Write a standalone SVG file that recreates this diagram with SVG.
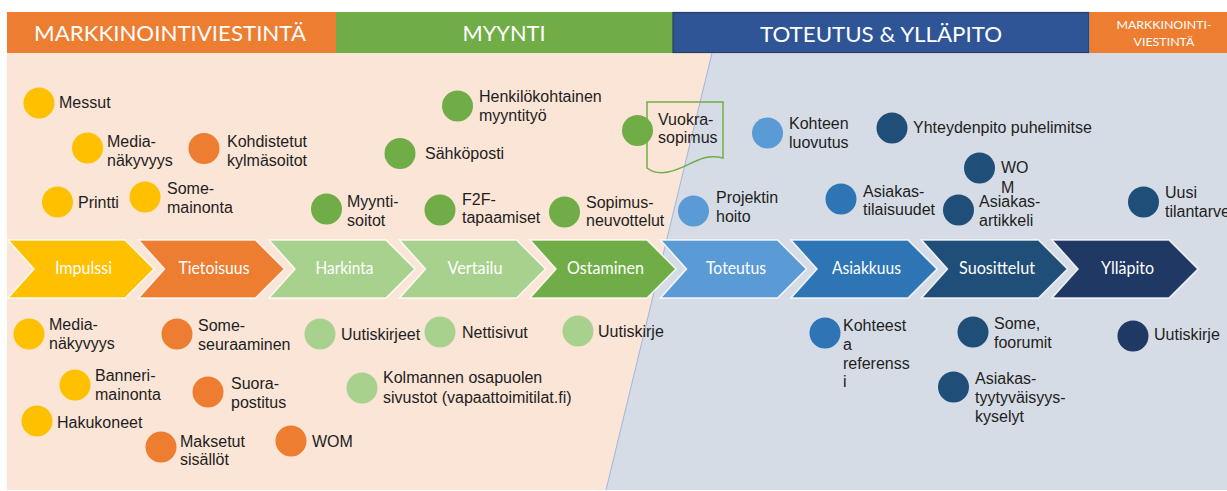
<svg xmlns="http://www.w3.org/2000/svg" width="1227" height="491" viewBox="0 0 1227 491">
<style>
.lbl{font-family:"Liberation Sans",Arial,sans-serif;font-size:16px;fill:#1e1e1e}
.hdr{font-family:Lato,"Open Sans",sans-serif;fill:#fff}
.ct{font-family:Lato,"Open Sans",sans-serif;font-size:17px;fill:#fff;text-anchor:middle}
.chev{stroke:#fff;stroke-width:1.5;stroke-opacity:0.85}
.yel{fill:#FFC000}.ora{fill:#ED7D31}.grn{fill:#70AD47}.lgr{fill:#A9D18E}
.lbl1{fill:#5B9BD5}.mbl{fill:#2E75B6}.dbl{fill:#1F4E79}.nav{fill:#203864}
</style>
<defs>
<path id="chv" d="M0,240 L117,240 L146,269 L117,298 L0,298 L26,269 Z"/>
</defs>
<rect x="0" y="0" width="1227" height="491" fill="#fff"/>
<g id="background">
<rect x="7" y="53" width="1220" height="437" fill="#FBE5D6"/>
<polygon points="712,53 1227,53 1227,490 606,490" fill="#D6DCE5"/>
<line x1="712" y1="53" x2="606" y2="490" stroke="#9DB7E0" stroke-width="1"/>
</g>
<g id="header">
<rect x="7" y="12" width="329" height="41" fill="#ED7D31"/>
<rect x="336" y="12" width="337" height="41" fill="#70AD47"/>
<rect x="673" y="12.5" width="416" height="40" fill="#2F5597" stroke="#2A3F62" stroke-width="1.2"/>
<rect x="1089.6" y="12" width="137.4" height="41" fill="#ED7D31"/>
<text class="hdr" x="170" y="41" font-size="22" text-anchor="middle" textLength="272" lengthAdjust="spacingAndGlyphs">MARKKINOINTIVIESTINTÄ</text>
<text class="hdr" x="504" y="41" font-size="22" text-anchor="middle" textLength="83" lengthAdjust="spacingAndGlyphs">MYYNTI</text>
<text class="hdr" x="881" y="42" font-size="22" text-anchor="middle" textLength="242" lengthAdjust="spacingAndGlyphs">TOTEUTUS &amp; YLLÄPITO</text>
<text class="hdr" x="1164" y="29" font-size="12" text-anchor="middle" textLength="95" lengthAdjust="spacingAndGlyphs">MARKKINOINTI-</text>
<text class="hdr" x="1164" y="46" font-size="12" text-anchor="middle" textLength="61" lengthAdjust="spacingAndGlyphs">VIESTINTÄ</text>
</g>
<g id="stages">
<g id="s-impulssi"><use href="#chv" x="8" class="chev yel"/><text class="ct" x="83.5" y="274" textLength="57" lengthAdjust="spacingAndGlyphs">Impulssi</text></g>
<g id="s-tietoisuus"><use href="#chv" x="138.5" class="chev ora"/><text class="ct" x="214" y="274" textLength="71" lengthAdjust="spacingAndGlyphs">Tietoisuus</text></g>
<g id="s-harkinta"><use href="#chv" x="269" class="chev lgr"/><text class="ct" x="344.5" y="274" textLength="58" lengthAdjust="spacingAndGlyphs">Harkinta</text></g>
<g id="s-vertailu"><use href="#chv" x="399.5" class="chev lgr"/><text class="ct" x="475" y="274" textLength="55" lengthAdjust="spacingAndGlyphs">Vertailu</text></g>
<g id="s-ostaminen"><use href="#chv" x="530" class="chev grn"/><text class="ct" x="605.5" y="274" textLength="77" lengthAdjust="spacingAndGlyphs">Ostaminen</text></g>
<g id="s-toteutus"><use href="#chv" x="660.5" class="chev lbl1"/><text class="ct" x="736" y="274" textLength="60" lengthAdjust="spacingAndGlyphs">Toteutus</text></g>
<g id="s-asiakkuus"><use href="#chv" x="791" class="chev mbl"/><text class="ct" x="866.5" y="274" textLength="69" lengthAdjust="spacingAndGlyphs">Asiakkuus</text></g>
<g id="s-suosittelut"><use href="#chv" x="921.5" class="chev dbl"/><text class="ct" x="997" y="274" textLength="76" lengthAdjust="spacingAndGlyphs">Suosittelut</text></g>
<g id="s-yllapito"><use href="#chv" x="1052" class="chev nav"/><text class="ct" x="1127.5" y="274" textLength="53" lengthAdjust="spacingAndGlyphs">Ylläpito</text></g>
</g>
<g id="connectors"/>
<g id="nodes">
<g id="n-messut"><circle cx="39" cy="103" r="15.5" class="yel"/><text class="lbl" x="59" y="108">Messut</text></g>
<g id="n-medianakyvyys1"><circle cx="87.5" cy="148" r="15.5" class="yel"/><text class="lbl" x="107" y="147">Media-</text><text class="lbl" x="107" y="166">näkyvyys</text></g>
<g id="n-kohdistetut"><circle cx="204" cy="148.5" r="15.5" class="ora"/><text class="lbl" x="227" y="147">Kohdistetut</text><text class="lbl" x="227" y="166">kylmäsoitot</text></g>
<g id="n-printti"><circle cx="57.5" cy="202" r="15.5" class="yel"/><text class="lbl" x="78" y="208">Printti</text></g>
<g id="n-somemainonta"><circle cx="145" cy="197" r="15.5" class="yel"/><text class="lbl" x="167" y="194">Some-</text><text class="lbl" x="167" y="213">mainonta</text></g>
<g id="n-myyntisoitot"><circle cx="326.5" cy="209" r="15.5" class="grn"/><text class="lbl" x="347" y="207">Myynti-</text><text class="lbl" x="347" y="226">soitot</text></g>
<g id="n-henkilokohtainen"><circle cx="457.5" cy="106" r="15.5" class="grn"/><text class="lbl" x="479" y="102">Henkilökohtainen</text><text class="lbl" x="479" y="121">myyntityö</text></g>
<g id="n-sahkoposti"><circle cx="400" cy="153.5" r="15.5" class="grn"/><text class="lbl" x="425" y="159">Sähköposti</text></g>
<g id="n-f2f"><circle cx="440" cy="210" r="15.5" class="grn"/><text class="lbl" x="462" y="205">F2F-</text><text class="lbl" x="462" y="223">tapaamiset</text></g>
<g id="n-sopimus"><circle cx="564.5" cy="212" r="15.5" class="grn"/><text class="lbl" x="586" y="208">Sopimus-</text><text class="lbl" x="586" y="226">neuvottelut</text></g>
<g id="n-vuokrasopimus"><path d="M647,102 H723 V158 C700,152 690,168 668,172 C658,174 651,171 647,168 Z" fill="none" stroke="#70AD47" stroke-width="1.5"/><circle cx="637.5" cy="130.5" r="15.5" class="grn"/><text class="lbl" x="658" y="125">Vuokra-</text><text class="lbl" x="658" y="143">sopimus</text></g>
<g id="n-kohteenluovutus"><circle cx="767.5" cy="133" r="15.5" class="lbl1"/><text class="lbl" x="789" y="129">Kohteen</text><text class="lbl" x="789" y="148">luovutus</text></g>
<g id="n-yhteydenpito"><circle cx="892" cy="128" r="15.5" class="dbl"/><text class="lbl" x="913" y="133">Yhteydenpito puhelimitse</text></g>
<g id="n-wom2"><circle cx="979.5" cy="168" r="15.5" class="dbl"/><text class="lbl" x="1001" y="173">WO</text><text class="lbl" x="1001" y="193">M</text></g>
<g id="n-projektinhoito"><circle cx="693.5" cy="211" r="15.5" class="lbl1"/><text class="lbl" x="716" y="203">Projektin</text><text class="lbl" x="716" y="222">hoito</text></g>
<g id="n-asiakastilaisuudet"><circle cx="841" cy="199" r="15.5" class="mbl"/><text class="lbl" x="863" y="197">Asiakas-</text><text class="lbl" x="863" y="215">tilaisuudet</text></g>
<g id="n-asiakasartikkeli"><circle cx="958.5" cy="210" r="15.5" class="dbl"/><text class="lbl" x="979" y="207">Asiakas-</text><text class="lbl" x="979" y="226">artikkeli</text></g>
<g id="n-uusitilantarve"><circle cx="1143.5" cy="202" r="15.5" class="dbl"/><text class="lbl" x="1165" y="198">Uusi</text><text class="lbl" x="1165" y="217">tilantarve</text></g>
<g id="n-medianakyvyys2"><circle cx="29" cy="334" r="15.5" class="yel"/><text class="lbl" x="49" y="330">Media-</text><text class="lbl" x="49" y="349">näkyvyys</text></g>
<g id="n-someseuraaminen"><circle cx="177" cy="334" r="15.5" class="ora"/><text class="lbl" x="198" y="331">Some-</text><text class="lbl" x="198" y="350">seuraaminen</text></g>
<g id="n-uutiskirjeet"><circle cx="320" cy="334" r="15.5" class="lgr"/><text class="lbl" x="341" y="340">Uutiskirjeet</text></g>
<g id="n-nettisivut"><circle cx="440" cy="332" r="15.5" class="lgr"/><text class="lbl" x="462" y="338">Nettisivut</text></g>
<g id="n-uutiskirje1"><circle cx="578" cy="331" r="15.5" class="lgr"/><text class="lbl" x="598" y="337">Uutiskirje</text></g>
<g id="n-banneri"><circle cx="75" cy="385" r="15.5" class="yel"/><text class="lbl" x="95" y="381">Banneri-</text><text class="lbl" x="95" y="400">mainonta</text></g>
<g id="n-suorapostitus"><circle cx="208" cy="392" r="15.5" class="ora"/><text class="lbl" x="231" y="389">Suora-</text><text class="lbl" x="231" y="408">postitus</text></g>
<g id="n-kolmannen"><circle cx="362" cy="388" r="15.5" class="lgr"/><text class="lbl" x="383" y="383">Kolmannen osapuolen</text><text class="lbl" x="383" y="403">sivustot (vapaattoimitilat.fi)</text></g>
<g id="n-hakukoneet"><circle cx="37" cy="421" r="15.5" class="yel"/><text class="lbl" x="57" y="428">Hakukoneet</text></g>
<g id="n-maksetut"><circle cx="161" cy="447" r="15.5" class="ora"/><text class="lbl" x="180" y="447">Maksetut</text><text class="lbl" x="180" y="465">sisällöt</text></g>
<g id="n-wom1"><circle cx="291" cy="441" r="15.5" class="ora"/><text class="lbl" x="312" y="447">WOM</text></g>
<g id="n-kohteesta"><circle cx="825" cy="333" r="15.5" class="mbl"/><text class="lbl" x="843" y="331">Kohteest</text><text class="lbl" x="843" y="350">a</text><text class="lbl" x="843" y="368.5">referenss</text><text class="lbl" x="843" y="387">i</text></g>
<g id="n-somefoorumit"><circle cx="973" cy="332" r="15.5" class="dbl"/><text class="lbl" x="994" y="329">Some,</text><text class="lbl" x="994" y="348">foorumit</text></g>
<g id="n-tyytyvaisyys"><circle cx="953.5" cy="387" r="15.5" class="dbl"/><text class="lbl" x="975" y="384">Asiakas-</text><text class="lbl" x="975" y="403">tyytyväisyys-</text><text class="lbl" x="975" y="422">kyselyt</text></g>
<g id="n-uutiskirje2"><circle cx="1133" cy="336" r="15.5" class="nav"/><text class="lbl" x="1154" y="340">Uutiskirje</text></g>
</g>
</svg>
